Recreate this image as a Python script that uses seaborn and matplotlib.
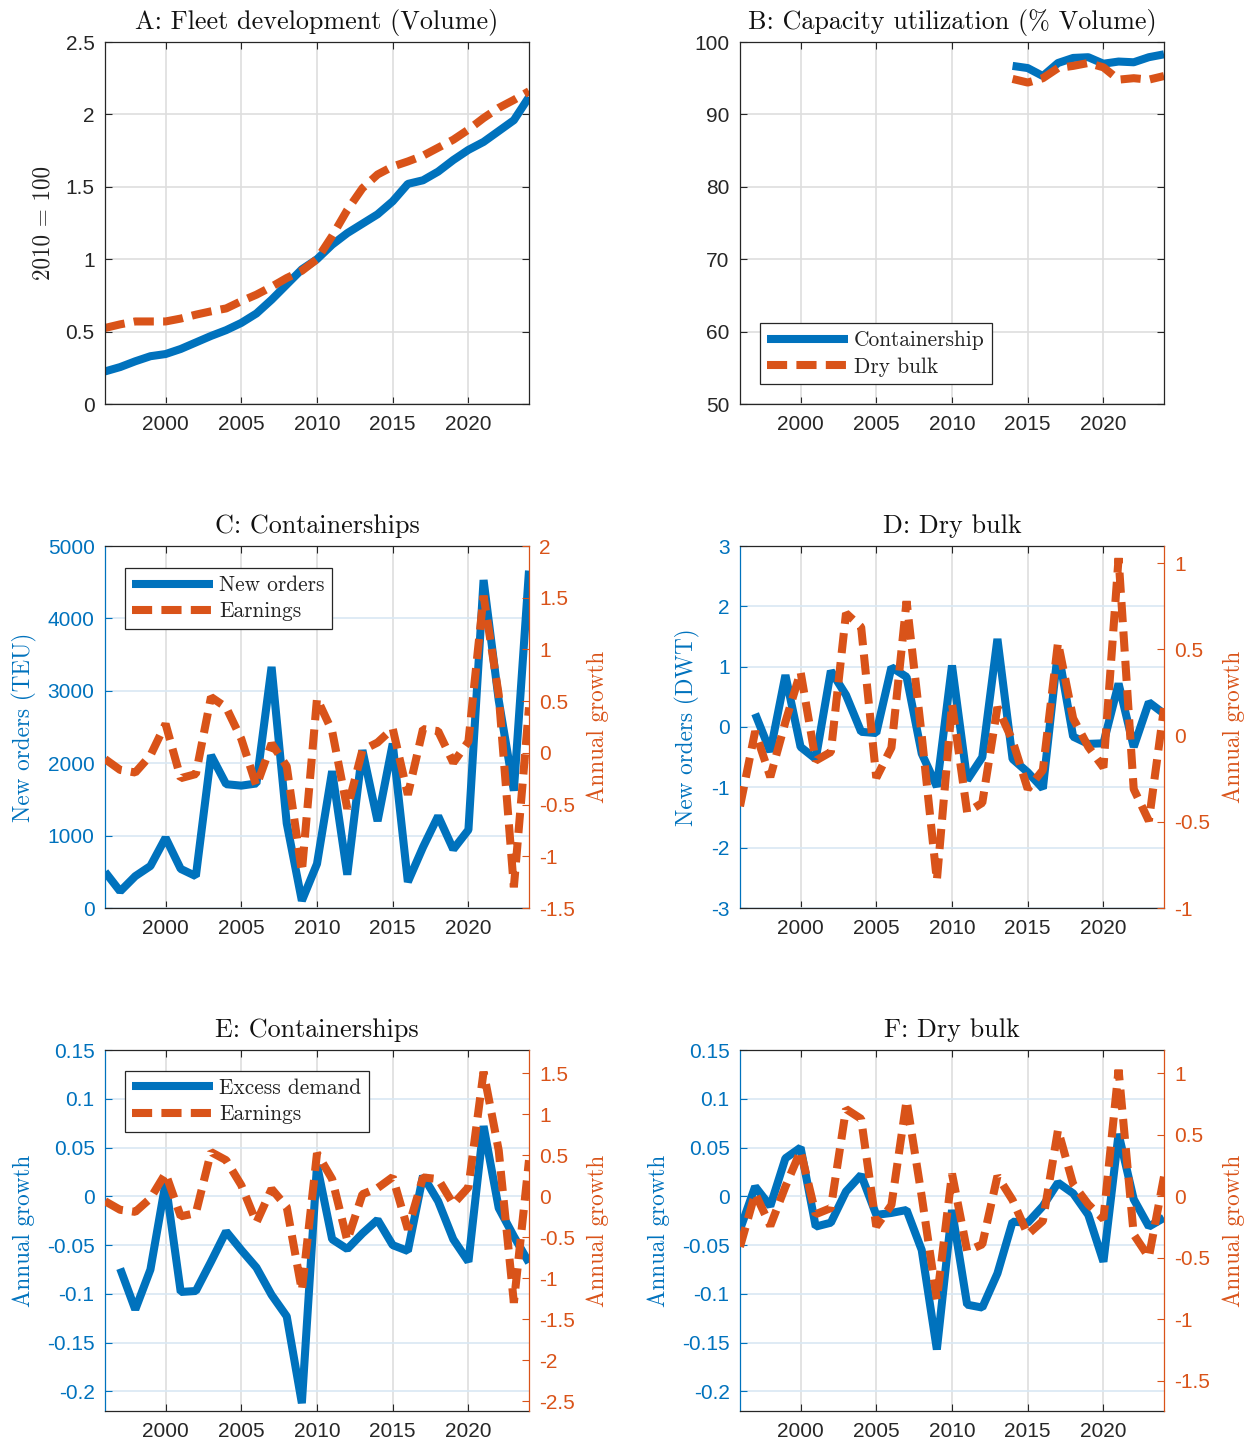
import matplotlib
matplotlib.use("Agg")
import matplotlib.pyplot as plt
import numpy as np
import pandas as pd
import seaborn as sns
from matplotlib.ticker import FuncFormatter

# ---------------------------------------------------------------- data
years = list(range(1996, 2025))

fleet_container = [0.225, 0.255, 0.295, 0.33, 0.345, 0.38, 0.425, 0.47, 0.51, 0.56,
                   0.625, 0.72, 0.825, 0.93, 1.0, 1.1, 1.18, 1.245, 1.31, 1.4,
                   1.52, 1.545, 1.605, 1.685, 1.755, 1.81, 1.885, 1.96, 2.12]
fleet_drybulk = [0.525, 0.55, 0.57, 0.57, 0.57, 0.59, 0.617, 0.64, 0.66, 0.71,
                 0.755, 0.81, 0.87, 0.92, 1.0, 1.16, 1.34, 1.49, 1.585, 1.64,
                 1.675, 1.715, 1.77, 1.825, 1.895, 1.975, 2.045, 2.1, 2.16]

util_years = list(range(2014, 2025))
util_container = [96.7, 96.4, 95.3, 97.1, 97.8, 97.9, 97.0, 97.3, 97.2, 97.9, 98.3]
util_drybulk = [94.9, 94.4, 95.0, 96.4, 96.7, 97.1, 96.5, 94.8, 95.0, 94.8, 95.3]

orders_container = [500, 230, 440, 580, 970, 540, 440, 2110, 1710, 1690,
                    1720, 3330, 1170, 100, 610, 1890, 460, 2180, 1200, 2270,
                    360, 840, 1270, 810, 1080, 4530, 2870, 1620, 4660]

dry_years = list(range(1997, 2025))
orders_drybulk = [0.22, -0.41, 0.86, -0.33, -0.53, 0.93, 0.53, -0.08, -0.10, 0.99,
                  0.83, -0.44, -0.99, 1.02, -0.88, -0.50, 1.46, -0.53, -0.75, -1.02,
                  1.27, -0.16, -0.28, -0.27, 0.72, -0.33, 0.41, 0.22]

earnings_container = [-0.06, -0.165, -0.19, -0.025, 0.28, -0.245, -0.205, 0.54, 0.44, 0.135,
                      -0.32, 0.09, -0.13, -1.15, 0.525, 0.21, -0.54, 0.025, 0.10, 0.235,
                      -0.405, 0.23, 0.21, -0.095, 0.11, 1.52, 0.56, -1.30, 0.44]
earnings_drybulk = [-0.41, 0.025, -0.24, 0.08, 0.37, -0.145, -0.095, 0.71, 0.63, -0.245,
                    -0.07, 0.78, 0.0, -0.84, 0.185, -0.445, -0.39, 0.165, -0.03, -0.31,
                    -0.2, 0.54, 0.1, -0.065, -0.185, 1.03, -0.31, -0.495, 0.16]

excess_years = list(range(1997, 2025))
excess_container = [-0.074, -0.116, -0.075, 0.014, -0.098, -0.097, -0.067, -0.036, -0.055, -0.073,
                    -0.101, -0.123, -0.212, 0.032, -0.044, -0.054, -0.038, -0.024, -0.050, -0.056,
                    0.021, -0.005, -0.044, -0.067, 0.072, -0.012, -0.041, -0.068]
excess_drybulk = [-0.034, 0.010, -0.010, 0.039, 0.050, -0.031, -0.027, 0.005, 0.022, -0.019,
                  -0.017, -0.014, -0.055, -0.157, -0.014, -0.111, -0.114, -0.079, -0.026, -0.027,
                  -0.010, 0.014, 0.003, -0.019, -0.067, 0.064, -0.003, -0.031, -0.022]

xticks = [2000, 2005, 2010, 2015, 2020]

# ---------------------------------------------------------------- style
sns.set_theme(style="white")
plt.rcParams.update({
    "font.family": ["Liberation Sans", "DejaVu Sans"],
    "axes.unicode_minus": False,
    "lines.scale_dashes": True,
})

BLUE = "#0072BD"
ORANGE = "#D95319"
AXC = "#262626"
GRID_GRAY = "#dedede"
GRID_BLUE = "#d9e8f4"
SERIF = "cmr10"
LW = 5.8
DASH = (2.5, 1.15)
TICK_FS = 15
LABEL_FS = 16.7
TITLE_FS = 18.8
LEGEND_FS = 15.4

fmt = FuncFormatter(lambda v, p: "0" if abs(v) < 1e-12 else f"{v:g}")

fig = plt.figure(figsize=(12.51, 14.45), dpi=100)
W, H = 1251.0, 1445.0


def make_axes(left_px, top_px, bottom_px, right_px):
    return fig.add_axes([left_px / W, 1 - bottom_px / H,
                         (right_px - left_px) / W, (bottom_px - top_px) / H])


def draw(ax, x, y, color, dashed, label):
    df = pd.DataFrame({"year": x, "value": y})
    sns.lineplot(data=df, x="year", y="value", ax=ax, color=color, linewidth=LW,
                 estimator=None, sort=False, legend=False)
    line = ax.lines[-1]
    line.set_label(label)
    line.set_solid_joinstyle("bevel")
    line.set_dash_joinstyle("bevel")
    line.set_solid_capstyle("butt")
    line.set_dash_capstyle("butt")
    if dashed:
        line.set_dashes(DASH)
    return line


def base_style(ax, title, ycolor=AXC, grid_y=GRID_GRAY, mirror_y=True):
    ax.set_xlim(1996, 2024)
    ax.set_xticks(xticks)
    ax.set_xlabel("")
    ax.set_ylabel("")
    ax.tick_params(axis="x", direction="in", top=True, bottom=True, length=5,
                   width=0.8, colors=AXC, labelsize=TICK_FS, pad=8)
    ax.tick_params(axis="y", direction="in", left=True, right=mirror_y, length=5,
                   width=0.8, colors=ycolor, labelsize=TICK_FS, pad=7.5)
    for s in ["top", "bottom"]:
        ax.spines[s].set_color(AXC)
        ax.spines[s].set_linewidth(0.9)
    ax.spines["left"].set_color(ycolor)
    ax.spines["left"].set_linewidth(0.9)
    ax.spines["right"].set_color(AXC)
    ax.spines["right"].set_linewidth(0.9)
    ax.spines["right"].set_visible(mirror_y)
    ax.xaxis.grid(True, color=GRID_GRAY, linewidth=1.2)
    ax.yaxis.grid(True, color=grid_y, linewidth=1.2)
    ax.set_axisbelow(True)
    ax.yaxis.set_major_formatter(fmt)
    ax.set_title(title, family=SERIF, fontsize=TITLE_FS, color="#111111", pad=9)


def right_axis(ax, ylim, yticks):
    ax2 = ax.twinx()
    ax2.set_ylim(*ylim)
    ax2.set_yticks(yticks)
    ax2.yaxis.set_major_formatter(fmt)
    ax2.tick_params(axis="y", direction="in", right=True, left=False, length=5,
                    width=0.8, colors=ORANGE, labelsize=TICK_FS, pad=7.5)
    for s in ["left", "top", "bottom"]:
        ax2.spines[s].set_visible(False)
    ax2.spines["right"].set_color(ORANGE)
    ax2.spines["right"].set_linewidth(0.9)
    ax2.spines["right"].set_visible(True)
    ax2.grid(False)
    return ax2


def ylabel(ax, text, color, xpos):
    ax.set_ylabel(text, family=SERIF, fontsize=LABEL_FS, color=color,
                  va="center", ha="center")
    ax.yaxis.set_label_coords(xpos, 0.5)


def legend(ax, handles, anchor, loc):
    leg = ax.legend(handles=handles, loc=loc, bbox_to_anchor=anchor,
                    borderaxespad=0, fancybox=False, framealpha=1,
                    edgecolor=AXC, prop={"family": SERIF, "size": LEGEND_FS},
                    handlelength=3.75, handletextpad=0.3, labelspacing=0.32,
                    borderpad=0.35)
    leg.get_frame().set_linewidth(0.9)
    for t in leg.get_texts():
        t.set_color("#222222")
    return leg


# ---------------------------------------------------------------- A
axA = make_axes(105, 42, 404, 529)
draw(axA, years, fleet_container, BLUE, False, "Containership")
draw(axA, years, fleet_drybulk, ORANGE, True, "Dry bulk")
base_style(axA, "A: Fleet development (Volume)")
axA.set_ylim(0, 2.5)
axA.set_yticks(np.arange(0, 2.51, 0.5))
ylabel(axA, "2010 = 100", "#222222", -0.146)

# ---------------------------------------------------------------- B
axB = make_axes(740, 42, 404, 1164)
lb1 = draw(axB, util_years, util_container, BLUE, False, "Containership")
lb2 = draw(axB, util_years, util_drybulk, ORANGE, True, "Dry bulk")
base_style(axB, "B: Capacity utilization (% Volume)")
axB.set_ylim(50, 100)
axB.set_yticks(np.arange(50, 101, 10))
legend(axB, [lb1, lb2], (0.047, 0.055), "lower left")

# ---------------------------------------------------------------- C
axC = make_axes(105, 546, 908, 529)
lc1 = draw(axC, years, orders_container, BLUE, False, "New orders")
base_style(axC, "C: Containerships", ycolor=BLUE, grid_y=GRID_BLUE, mirror_y=False)
axC.set_ylim(0, 5000)
axC.set_yticks(np.arange(0, 5001, 1000))
axC2 = right_axis(axC, (-1.5, 2.0), np.arange(-1.5, 2.01, 0.5))
lc2 = draw(axC2, years, earnings_container, ORANGE, True, "Earnings")
axC2.set_xlim(1996, 2024)
ylabel(axC, "New orders (TEU)", BLUE, -0.191)
ylabel(axC2, "Annual growth", ORANGE, 1.163)
legend(axC2, [lc1, lc2], (0.047, 0.939), "upper left")

# ---------------------------------------------------------------- D
axD = make_axes(740, 546, 908, 1164)
draw(axD, dry_years, orders_drybulk, BLUE, False, "New orders")
base_style(axD, "D: Dry bulk", ycolor=BLUE, grid_y=GRID_BLUE, mirror_y=False)
axD.set_ylim(-3, 3)
axD.set_yticks(np.arange(-3, 3.01, 1))
axD2 = right_axis(axD, (-1.0, 1.1), np.arange(-1.0, 1.01, 0.5))
draw(axD2, years, earnings_drybulk, ORANGE, True, "Earnings")
axD2.set_xlim(1996, 2024)
ylabel(axD, "New orders (DWT)", BLUE, -0.123)
ylabel(axD2, "Annual growth", ORANGE, 1.165)

# ---------------------------------------------------------------- E
axE = make_axes(105, 1050, 1411, 529)
le1 = draw(axE, excess_years, excess_container, BLUE, False, "Excess demand")
base_style(axE, "E: Containerships", ycolor=BLUE, grid_y=GRID_BLUE, mirror_y=False)
axE.set_ylim(-0.22, 0.15)
axE.set_yticks(np.round(np.arange(-0.2, 0.151, 0.05), 2))
axE2 = right_axis(axE, (-2.62, 1.785), np.arange(-2.5, 1.51, 0.5))
le2 = draw(axE2, years, earnings_container, ORANGE, True, "Earnings")
axE2.set_xlim(1996, 2024)
ylabel(axE, "Annual growth", BLUE, -0.191)
ylabel(axE2, "Annual growth", ORANGE, 1.163)
legend(axE2, [le1, le2], (0.047, 0.942), "upper left")

# ---------------------------------------------------------------- F
axF = make_axes(740, 1050, 1411, 1164)
draw(axF, years, excess_drybulk, BLUE, False, "Excess demand")
base_style(axF, "F: Dry bulk", ycolor=BLUE, grid_y=GRID_BLUE, mirror_y=False)
axF.set_ylim(-0.22, 0.15)
axF.set_yticks(np.round(np.arange(-0.2, 0.151, 0.05), 2))
axF2 = right_axis(axF, (-1.745, 1.19), np.arange(-1.5, 1.01, 0.5))
draw(axF2, years, earnings_drybulk, ORANGE, True, "Earnings")
axF2.set_xlim(1996, 2024)
ylabel(axF, "Annual growth", BLUE, -0.191)
ylabel(axF2, "Annual growth", ORANGE, 1.165)

fig.savefig("out.png", dpi=100, facecolor="white")
